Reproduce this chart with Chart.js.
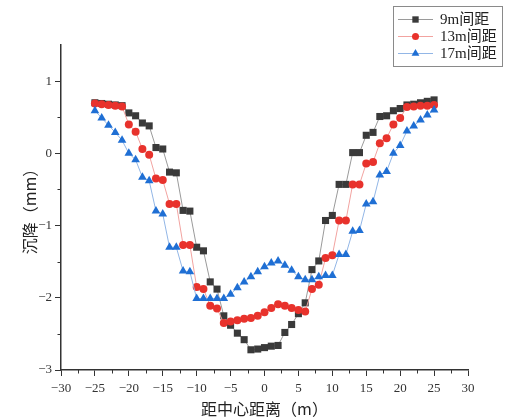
<!DOCTYPE html>
<html><head><meta charset="utf-8">
<script src="https://cdn.jsdelivr.net/npm/chart.js@4.4.1/dist/chart.umd.min.js"></script>
<style>html,body{margin:0;padding:0;background:#fff}canvas{display:block}</style>
</head><body>
<canvas id="c" width="506" height="419"></canvas>
<script>
const distances = [-25,-24,-23,-22,-21,-20,-19,-18,-17,-16,-15,-14,-13,-12,-11,-10,-9,-8,-7,-6,-5,-4,-3,-2,-1,0,1,2,3,4,5,6,7,8,9,10,11,12,13,14,15,16,17,18,19,20,21,22,23,24,25];
const settle9 = [0.70,0.69,0.68,0.67,0.66,0.56,0.52,0.42,0.38,0.08,0.06,-0.26,-0.27,-0.79,-0.80,-1.30,-1.35,-1.78,-1.88,-2.25,-2.38,-2.49,-2.58,-2.72,-2.71,-2.69,-2.67,-2.66,-2.48,-2.37,-2.22,-2.07,-1.61,-1.49,-0.93,-0.86,-0.43,-0.43,0.01,0.01,0.25,0.29,0.51,0.52,0.59,0.62,0.67,0.68,0.70,0.72,0.74];
const settle13 = [0.69,0.68,0.67,0.66,0.65,0.40,0.30,0.06,-0.02,-0.35,-0.37,-0.70,-0.70,-1.27,-1.27,-1.85,-1.88,-2.11,-2.15,-2.35,-2.33,-2.31,-2.29,-2.28,-2.25,-2.20,-2.14,-2.09,-2.11,-2.14,-2.17,-2.19,-1.88,-1.82,-1.45,-1.41,-0.93,-0.93,-0.43,-0.43,-0.14,-0.12,0.14,0.21,0.40,0.49,0.64,0.65,0.66,0.66,0.67];
const settle17 = [0.59,0.49,0.39,0.29,0.18,0.00,-0.09,-0.33,-0.38,-0.80,-0.84,-1.30,-1.30,-1.63,-1.64,-2.01,-2.01,-2.01,-2.01,-2.01,-1.95,-1.86,-1.78,-1.71,-1.64,-1.57,-1.52,-1.49,-1.55,-1.62,-1.71,-1.75,-1.75,-1.71,-1.69,-1.69,-1.40,-1.40,-1.08,-1.07,-0.70,-0.67,-0.30,-0.25,0.00,0.11,0.31,0.38,0.46,0.53,0.60];
const seriesNames = ['9m间距','13m间距','17m间距'];
const xTicks = [-30,-25,-20,-15,-10,-5,0,5,10,15,20,25,30];
const yTicks = [-3,-2,-1,0,1];
const xMinorTicks = [-27.5,-22.5,-17.5,-12.5,-7.5,-2.5,2.5,7.5,12.5,17.5,22.5,27.5];
const yMinorTicks = [-2.5,-1.5,-0.5,0.5];
const xTitle = '距中心距离（m）';
const yTitle = '沉降（mm）';

const markerColors = ['#3a3a3a','#e8322c','#1f6fd4'];
const lineColors = ['#9a9a9a','#f2a3a0','#92b6e6'];
const styles = ['rect','circle','triangle'];
const radii = [5,4,5];
const seriesData = [settle9, settle13, settle17];

const pts = arr => distances.map((d,i)=>({x:d,y:arr[i]}));
const datasets = seriesData.map((arr,k)=>({
  label: seriesNames[k],
  data: pts(arr),
  borderColor: lineColors[k],
  borderWidth: 1,
  pointStyle: styles[k],
  pointRadius: radii[k],
  pointHoverRadius: radii[k],
  pointBackgroundColor: markerColors[k],
  pointBorderColor: markerColors[k],
  pointBorderWidth: 0,
  showLine: true,
  order: 3-k
}));

const serif = "'Liberation Serif','Noto Sans CJK SC',serif";
const cjk = "'Noto Sans CJK SC','Liberation Serif',serif";
const fmt = v => String(v).replace('-','\u2212');

function drawMarker(ctx, style, r, x, y, color){
  ctx.fillStyle = color;
  ctx.beginPath();
  if (style==='rect'){ const s=Math.SQRT1_2*r; ctx.rect(x-s,y-s,2*s,2*s); }
  else if (style==='circle'){ ctx.arc(x,y,r,0,Math.PI*2); }
  else { const h=r*Math.cos(Math.PI/6); ctx.moveTo(x,y-r); ctx.lineTo(x+h,y+r/2); ctx.lineTo(x-h,y+r/2); ctx.closePath(); }
  ctx.fill();
}

const extras = {
  id:'extras',
  afterDraw(chart){
    const ctx = chart.ctx, xs = chart.scales.x, ys = chart.scales.y;
    ctx.save();
    ctx.strokeStyle = '#333'; ctx.lineWidth = 1;
    ctx.beginPath();
    xMinorTicks.forEach(v=>{ const p=Math.round(xs.getPixelForValue(v))+0.5; ctx.moveTo(p, ys.bottom); ctx.lineTo(p, ys.bottom+3.5); });
    yMinorTicks.forEach(v=>{ const p=Math.round(ys.getPixelForValue(v))+0.5; ctx.moveTo(xs.left, p); ctx.lineTo(xs.left-3.5, p); });
    ctx.stroke();
    // legend
    const bx=393.5, by=6.5, bw=109, bh=60;
    ctx.strokeStyle='#8a8a8a'; ctx.lineWidth=1;
    ctx.strokeRect(bx,by,bw,bh);
    const rows=[19.5,36.5,53.5];
    ctx.font = "15px " + serif; ctx.textBaseline='middle'; ctx.textAlign='left';
    rows.forEach((ry,k)=>{
      ctx.strokeStyle=lineColors[k]; ctx.beginPath(); ctx.moveTo(398,ry); ctx.lineTo(433,ry); ctx.stroke();
      drawMarker(ctx, styles[k], radii[k]-0.5, 415.5, ry, markerColors[k]);
      ctx.fillStyle='#222'; ctx.fillText(seriesNames[k], 440, ry+1);
    });
    ctx.restore();
  }
};

new Chart(document.getElementById('c'), {
  type:'scatter',
  data:{datasets},
  options:{
    responsive:false, animation:false,
    layout:{padding:{left:0,top:45,right:38,bottom:0}},
    plugins:{legend:{display:false}, tooltip:{enabled:false}},
    scales:{
      x:{
        type:'linear', min:-30, max:30,
        afterBuildTicks: s=>{ s.ticks = xTicks.map(v=>({value:v})); },
        afterFit: s=>{ s.height = 49; },
        ticks:{ callback: v=>fmt(v), color:'#333', font:{family:serif,size:13}, padding:5, maxRotation:0, autoSkip:false },
        grid:{ drawOnChartArea:false, drawTicks:true, tickLength:6, color:'#333' },
        border:{ display:true, color:'#333', width:1.5 },
        title:{ display:true, text:xTitle, color:'#222', font:{family:cjk,size:16}, padding:{top:0,bottom:0} }
      },
      y:{
        type:'linear', min:-3, max:1.5,
        afterBuildTicks: s=>{ s.ticks = yTicks.map(v=>({value:v})); },
        afterFit: s=>{ s.width = 61; },
        ticks:{ callback: v=>fmt(v), color:'#333', font:{family:serif,size:13}, padding:3, autoSkip:false },
        grid:{ drawOnChartArea:false, drawTicks:true, tickLength:6, color:'#333' },
        border:{ display:true, color:'#333', width:1.5 },
        title:{ display:true, text:yTitle, color:'#222', font:{family:cjk,size:16}, padding:{top:20,bottom:0} }
      }
    }
  },
  plugins:[extras]
});
</script>
</body></html>
